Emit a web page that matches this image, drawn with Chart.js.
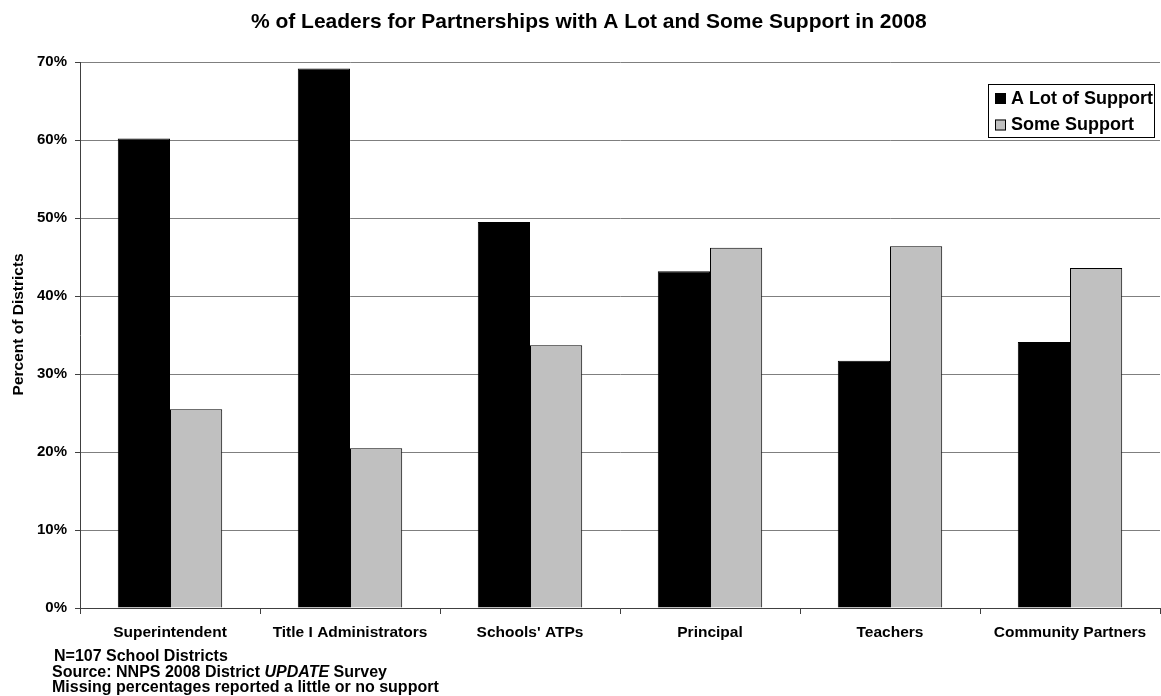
<!DOCTYPE html>
<html>
<head>
<meta charset="utf-8">
<script src="https://cdn.jsdelivr.net/npm/chart.js@4.4.0/dist/chart.umd.min.js"></script>
<style>
  html, body { margin: 0; padding: 0; background: #fff; overflow: hidden; }
  #wrap { position: relative; width: 1161px; height: 696px; overflow: hidden; }
  .note { position: absolute; font-family: "Liberation Sans", Arial, sans-serif; font-weight: bold; font-size: 16px; line-height: 16px; color: #000; white-space: nowrap; }
</style>
</head>
<body>
<div id="wrap">
  <canvas id="myChart" width="1161" height="696"></canvas>
  <div class="note" style="left:54px; top:648px;">N=107 School Districts</div>
  <div class="note" style="left:52px; top:663.5px;">Source: NNPS 2008 District <i>UPDATE</i> Survey</div>
  <div class="note" style="left:52px; top:679px;">Missing percentages reported a little or no support</div>
</div>
<script>
const categories = ['Superintendent', 'Title I Administrators', "Schools' ATPs", 'Principal', 'Teachers', 'Community Partners'];
const aLotOfSupport = [60.2, 69.2, 49.5, 43.2, 31.7, 34.1];
const someSupport = [25.5, 20.5, 33.7, 46.2, 46.4, 43.6];
const yTicks = [0, 10, 20, 30, 40, 50, 60, 70];

const FONT = '"Liberation Sans", Arial, sans-serif';

// legend drawn inside the plot, with a box round it
const boxLegend = {
    id: 'boxLegend',
    afterDraw(chart) {
        const c = chart.ctx;
        const x = 988, y = 84, w = 166, h = 53;
        c.save();
        c.fillStyle = '#fff';
        c.fillRect(x, y, w, h);
        c.strokeStyle = '#000';
        c.lineWidth = 1;
        c.strokeRect(x + 0.5, y + 0.5, w, h);
        c.font = 'bold 18px ' + FONT;
        c.textBaseline = 'middle';
        chart.data.datasets.forEach(function (ds, i) {
            const cy = y + 14 + i * 26.5;
            c.fillStyle = ds.backgroundColor;
            c.fillRect(x + 7, cy - 5, 11, 11);
            c.strokeStyle = '#000';
            c.strokeRect(x + 7.5, cy - 4.5, 10, 10);
            c.fillStyle = '#000';
            c.fillText(ds.label, x + 23, cy + 1);
        });
        c.restore();
    }
};

const ctx = document.getElementById('myChart').getContext('2d');
const myChart = new Chart(ctx, {
    type: 'bar',
    data: {
        labels: categories,
        datasets: [{
            label: 'A Lot of Support',
            data: aLotOfSupport,
            backgroundColor: '#000000',
            borderColor: '#000000',
            borderWidth: 1
        }, {
            label: 'Some Support',
            data: someSupport,
            backgroundColor: '#c0c0c0',
            borderColor: '#000000',
            borderWidth: 1
        }]
    },
    options: {
        responsive: false,
        animation: false,
        layout: { padding: { top: 0, right: 1, bottom: 44, left: 0 } },
        datasets: { bar: { categoryPercentage: 0.58, barPercentage: 1.0 } },
        plugins: {
            legend: { display: false },
            tooltip: { enabled: false },
            title: {
                display: true,
                text: '   % of Leaders for Partnerships with A Lot and Some Support in 2008',
                color: '#000',
                font: { family: FONT, size: 21, weight: 'bold' },
                padding: { top: 10, bottom: 27 }
            }
        },
        scales: {
            x: {
                grid: { offset: true, drawOnChartArea: false, color: '#404040', tickLength: 6 },
                border: { color: '#404040' },
                ticks: { color: '#000', padding: 9, font: { family: FONT, size: 15.5, weight: 'bold' }, maxRotation: 0 },
                afterFit(scale) { scale.height = 44; }
            },
            y: {
                min: 0,
                max: 70,
                afterBuildTicks(scale) { scale.ticks = yTicks.map(v => ({ value: v })); },
                grid: { color: '#7f7f7f', tickLength: 5, tickColor: '#404040' },
                border: { color: '#404040' },
                ticks: { color: '#000', padding: 8, font: { family: FONT, size: 15, weight: 'bold' }, callback: v => v + '%' },
                title: { display: true, text: '     Percent of Districts', color: '#000', padding: { top: 9, bottom: 0 }, font: { family: FONT, size: 15.5, weight: 'bold' } },
                afterFit(scale) { scale.width = 80; }
            }
        }
    },
    plugins: [boxLegend]
});
</script>
</body>
</html>
